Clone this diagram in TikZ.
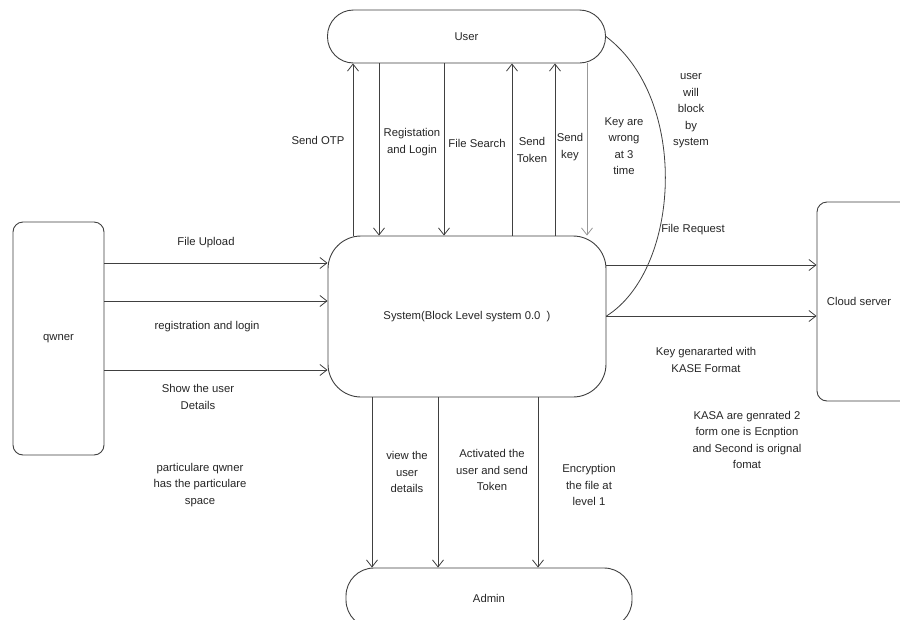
\documentclass[tikz,border=0pt]{standalone}
\usepackage{fontspec}
\setmainfont{Liberation Sans}
\usetikzlibrary{arrows.meta}
\begin{document}
\begin{tikzpicture}[x=1pt,y=-1pt,
  box/.style={draw=black!75,line width=0.9pt,inner sep=0pt,align=center,text=black!85},
  lbl/.style={align=center,text=black!85,inner sep=0pt,font=\fontsize{11.3}{16.5}\selectfont},
  arr/.style={draw=black!75,line width=0.8pt,-{Straight Barb[length=7pt,width=11pt]}},
  garr/.style={arr,draw=black!40},
  every node/.style={font=\fontsize{11.3}{16.5}\selectfont}]
\useasboundingbox (0,0) rectangle (900,619);
\fill[white] (0,0) rectangle (900,619);
% nodes
\node[box,minimum width=278pt,minimum height=53pt,rounded corners=26pt] (user) at (466.5,36.5) {User};
\node[box,minimum width=278pt,minimum height=161pt,rounded corners=33pt] (sys) at (467,316.5) {System(Block Level system 0.0\ \ )};
\node[box,minimum width=91pt,minimum height=233pt,rounded corners=10pt] (owner) at (58.5,338.5) {qwner};
\node[box,minimum width=93pt,minimum height=199pt,rounded corners=10pt] (cloud) at (863.5,301.5) {};
\node[text=black!85] (cloudtxt) at (859,301) {Cloud server};
\node[box,minimum width=286pt,minimum height=60pt,rounded corners=28pt] (admin) at (489,598) {Admin};
% x / y levels
\coordinate (xa) at (353,0);
\coordinate (xb) at (379,0);
\coordinate (xc) at (444,0);
\coordinate (xd) at (512,0);
\coordinate (xe) at (555,0);
\coordinate (xf) at (587,0);
\coordinate (xg) at (372,0);
\coordinate (xh) at (438,0);
\coordinate (xi) at (538,0);
\coordinate (ya) at (0,263);
\coordinate (yb) at (0,301);
\coordinate (yc) at (0,370);
\coordinate (yd) at (0,265);
\coordinate (ye) at (0,316);
% top connectors
\draw[arr] (sys.north -| xa) -- (user.south -| xa);
\draw[arr] (user.south -| xb) -- (sys.north -| xb);
\draw[arr] (user.south -| xc) -- (sys.north -| xc);
\draw[arr] (sys.north -| xd) -- (user.south -| xd);
\draw[arr] (sys.north -| xe) -- (user.south -| xe);
\draw[garr] (user.south -| xf) -- (sys.north -| xf);
% left connectors
\draw[arr] (owner.east |- ya) -- (sys.west |- ya);
\draw[arr] (owner.east |- yb) -- (sys.west |- yb);
\draw[arr] (owner.east |- yc) -- (sys.west |- yc);
% right connectors
\draw[arr] (sys.east |- yd) -- (cloud.west |- yd);
\draw[arr] (sys.east |- ye) -- (cloud.west |- ye);
% bottom connectors
\draw[arr] (sys.south -| xg) -- (admin.north -| xg);
\draw[arr] (sys.south -| xh) -- (admin.north -| xh);
\draw[arr] (sys.south -| xi) -- (admin.north -| xi);
% curve
\draw[draw=black!75,line width=0.8pt] (sys.east |- ye) .. controls (680,270) and (690,100) .. (user.east);
% labels
\node[lbl] (l1) at (318,140) {Send OTP};
\node[lbl] (l2) at (412,142) {Registation\\and Login};
\node[lbl] (l3) at (477,143) {File Search};
\node[lbl] (l4) at (532,150) {Send\\Token};
\node[lbl] (l5) at (570,147) {Send\\key};
\node[lbl] (l6) at (624,146) {Key are\\wrong\\at 3\\time};
\node[lbl] (l7) at (691,111) {user\\will\\block\\by\\system};
\node[lbl] (l8) at (693,230) {File Request};
\node[lbl] (l9) at (706,360) {Key genararted with\\KASE Format};
\node[lbl] (l10) at (747,440) {KASA are genrated 2\\form one is Ecnption\\and Second is orignal\\fomat};
\node[lbl] (l11) at (206,243) {File Upload};
\node[lbl] (l12) at (207,327) {registration and login};
\node[lbl] (l13) at (198,397) {Show the user\\Details};
\node[lbl] (l14) at (200,485) {particulare qwner\\has the particulare\\space};
\node[lbl] (l15) at (407,472) {view the\\user\\details};
\node[lbl] (l16) at (492,470) {Activated the\\user and send\\Token};
\node[lbl] (l17) at (589,485) {Encryption\\the file at\\level 1};
\end{tikzpicture}
\end{document}
